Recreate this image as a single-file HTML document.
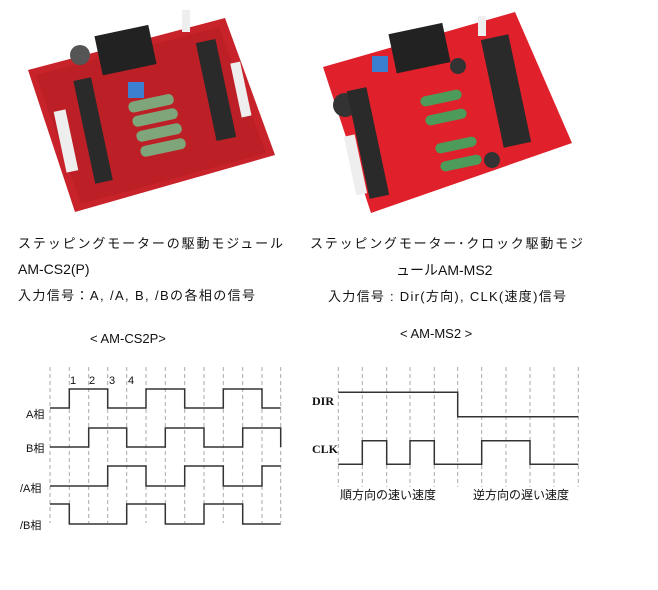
<!DOCTYPE html>
<html><head><meta charset="utf-8"><style>
html,body{margin:0;padding:0;background:#fff;}
svg{display:block;}
.t{font-family:"Liberation Sans","Noto Sans CJK JP",sans-serif;font-size:13px;fill:#111;}
.s{font-family:"Liberation Serif",serif;font-size:12px;font-weight:bold;fill:#111;}
.d{stroke:#aaa;stroke-width:1;stroke-dasharray:4,3;}
.w{fill:none;stroke:#333;stroke-width:1.5;}
</style></head><body>
<svg width="658" height="590" viewBox="0 0 658 590" xmlns="http://www.w3.org/2000/svg">
<!-- left board -->
<polygon points="28,70 225,18 275,155 75,212" fill="#c8232a"/>
<polygon points="36,75 219,27 266,153 81,204" fill="#b51d24" opacity="0.6"/>
<rect x="98" y="30" width="55" height="40" fill="#222" transform="rotate(-12 126 50)"/>
<circle cx="80" cy="55" r="10" fill="#555"/>
<rect x="128" y="82" width="16" height="16" fill="#3a7fd0"/>
<g fill="#7fa57a"><rect x="128" y="98" width="46" height="11" rx="5" transform="rotate(-12 150 103)"/><rect x="132" y="112" width="46" height="11" rx="5" transform="rotate(-12 155 117)"/><rect x="136" y="127" width="46" height="11" rx="5" transform="rotate(-12 159 132)"/><rect x="140" y="142" width="46" height="11" rx="5" transform="rotate(-12 163 147)"/></g>
<rect x="84" y="78" width="18" height="105" fill="#2a2a2a" transform="rotate(-12 93 130)"/>
<rect x="206" y="40" width="20" height="100" fill="#2a2a2a" transform="rotate(-12 216 90)"/>
<rect x="60" y="110" width="12" height="62" fill="#eee" transform="rotate(-12 66 141)"/>
<rect x="236" y="62" width="10" height="55" fill="#eee" transform="rotate(-12 241 90)"/>
<rect x="182" y="10" width="8" height="22" fill="#eee"/>
<!-- right board -->
<polygon points="323,67 515,12 572,143 371,213" fill="#e0202a"/>
<rect x="392" y="28" width="55" height="40" fill="#222" transform="rotate(-12 420 48)"/>
<rect x="372" y="56" width="16" height="16" fill="#3a7fd0"/>
<circle cx="345" cy="105" r="12" fill="#333"/>
<circle cx="458" cy="66" r="8" fill="#333"/>
<circle cx="492" cy="160" r="8" fill="#333"/>
<rect x="358" y="88" width="20" height="110" fill="#2a2a2a" transform="rotate(-12 368 143)"/>
<rect x="492" y="36" width="28" height="110" fill="#2a2a2a" transform="rotate(-12 506 91)"/>
<g fill="#4d9b5a"><rect x="420" y="93" width="42" height="10" rx="5" transform="rotate(-12 441 98)"/><rect x="425" y="112" width="42" height="10" rx="5" transform="rotate(-12 446 117)"/><rect x="435" y="140" width="42" height="10" rx="5" transform="rotate(-12 456 145)"/><rect x="440" y="158" width="42" height="10" rx="5" transform="rotate(-12 461 163)"/></g>
<rect x="350" y="135" width="11" height="60" fill="#eee" transform="rotate(-12 355 165)"/>
<rect x="478" y="16" width="8" height="20" fill="#eee"/>

<!-- texts -->
<text class="t" x="18" y="248" textLength="265">ステッピングモーターの駆動モジュール</text>
<text class="t" x="18" y="274" style="font-size:14px">AM-CS2(P)</text>
<text class="t" x="18" y="300" textLength="237">入力信号：A, /A, B, /Bの各相の信号</text>
<text class="t" x="310" y="248" textLength="273">ステッピングモーター･クロック駆動モジ</text>
<text class="t" x="396" y="275" style="font-size:14px">ュールAM-MS2</text>
<text class="t" x="328" y="301" textLength="238">入力信号 : Dir(方向), CLK(速度)信号</text>
<text class="t" x="90" y="343">&lt; AM-CS2P&gt;</text>
<text class="t" x="400" y="338">&lt; AM-MS2 &gt;</text>

<!-- left timing -->
<g class="d">
<line x1="50" y1="367" x2="50" y2="523"/><line x1="69.3" y1="367" x2="69.3" y2="523"/><line x1="88.7" y1="367" x2="88.7" y2="523"/><line x1="107.7" y1="367" x2="107.7" y2="523"/><line x1="126.7" y1="367" x2="126.7" y2="523"/><line x1="146" y1="367" x2="146" y2="523"/><line x1="165.3" y1="367" x2="165.3" y2="523"/><line x1="184.7" y1="367" x2="184.7" y2="523"/><line x1="204" y1="367" x2="204" y2="523"/><line x1="223.3" y1="367" x2="223.3" y2="523"/><line x1="242.7" y1="367" x2="242.7" y2="523"/><line x1="262" y1="367" x2="262" y2="523"/><line x1="280.7" y1="367" x2="280.7" y2="523"/>
</g>
<polyline class="w" points="50,408 69.3,408 69.3,389 107.7,389 107.7,408 146,408 146,389 184.7,389 184.7,408 223.3,408 223.3,389 262,389 262,408 280.7,408"/>
<polyline class="w" points="50,447 88.7,447 88.7,428 126.7,428 126.7,447 165.3,447 165.3,428 204,428 204,447 242.7,447 242.7,428 280.7,428 280.7,447"/>
<polyline class="w" points="50,486 107.7,486 107.7,466 146,466 146,486 184.7,486 184.7,466 223.3,466 223.3,486 262,486 262,466 280.7,466"/>
<polyline class="w" points="50,504 69.3,504 69.3,524 126.7,524 126.7,504 165.3,504 165.3,524 204,524 204,504 242.7,504 242.7,524 280.7,524"/>
<g class="t" style="font-size:11px">
<text x="70" y="384">1</text><text x="89" y="384">2</text><text x="109" y="384">3</text><text x="128" y="384">4</text>
<text x="26" y="418">A相</text><text x="26" y="452">B相</text><text x="20" y="492">/A相</text><text x="20" y="529">/B相</text>
</g>
<!-- right timing -->
<g class="d">
<line x1="338.3" y1="367" x2="338.3" y2="487"/><line x1="362.3" y1="367" x2="362.3" y2="487"/><line x1="386.7" y1="367" x2="386.7" y2="487"/><line x1="410" y1="367" x2="410" y2="487"/><line x1="434.3" y1="367" x2="434.3" y2="487"/><line x1="457.7" y1="367" x2="457.7" y2="487"/><line x1="481.7" y1="367" x2="481.7" y2="487"/><line x1="506" y1="367" x2="506" y2="487"/><line x1="530" y1="367" x2="530" y2="487"/><line x1="554" y1="367" x2="554" y2="487"/><line x1="578.3" y1="367" x2="578.3" y2="487"/>
</g>
<polyline class="w" points="338.3,392.3 457.7,392.3 457.7,416.7 578.3,416.7"/>
<polyline class="w" points="338.3,464.3 362.3,464.3 362.3,440.7 386.7,440.7 386.7,464.3 410,464.3 410,440.7 434.3,440.7 434.3,464.3 481.7,464.3 481.7,440.7 530,440.7 530,464.3 578.3,464.3"/>
<text class="s" x="312" y="405">DIR</text>
<text class="s" x="312" y="453">CLK</text>
<text class="t" x="340" y="499" style="font-size:12px">順方向の速い速度</text>
<text class="t" x="473" y="499" style="font-size:12px">逆方向の遅い速度</text>
</svg>
</body></html>
